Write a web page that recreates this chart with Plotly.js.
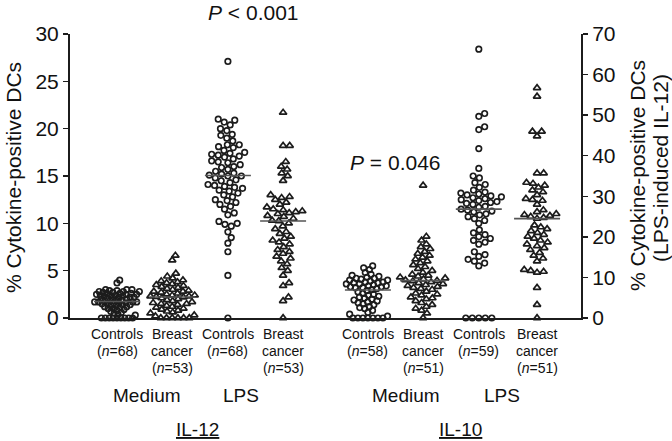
<!DOCTYPE html>
<html><head><meta charset="utf-8">
<script src="https://cdn.plot.ly/plotly-3.0.1.min.js"></script>
<style>html,body{margin:0;padding:0;background:#fff}#chart{width:672px;height:441px}</style>
</head><body><div id="chart"></div>
<script>
// ---------- DATA (left-axis units) ----------
const groupNames = ["Controls", "Breast cancer", "Controls", "Breast cancer",
                    "Controls", "Breast cancer", "Controls", "Breast cancer"];
const groupN = [68, 53, 68, 53, 58, 51, 59, 51];
const groupKind = ["control", "cancer", "control", "cancer", "control", "cancer", "control", "cancer"];
const conditionLabels = ["Medium", "LPS", "Medium", "LPS"];
const cytokineLabels = ["IL-12", "IL-10"];
const pValueLabels = ["<i>P</i> < 0.001", "<i>P</i> = 0.046"];
const leftTicks = [0, 5, 10, 15, 20, 25, 30];
const rightTicks = [0, 10, 20, 30, 40, 50, 60, 70];

const il12MediumControls = [0,0,0,0,0,0,0,0,0, 0.3,0.4,0.5,0.6,0.7, 0.8,0.9,1.0,1.0,1.1,
  1.2,1.2,1.3,1.3,1.4, 1.4,1.5,1.5,1.6,1.6, 1.6,1.7,1.7,1.7,1.7, 1.8,1.8,1.9,1.9,2.0,
  2.0,2.1,2.1,2.2,2.2, 2.3,2.3,2.4,2.4,2.5, 2.5,2.5,2.6,2.6,2.7, 2.7,2.8,2.8,2.9,2.9,
  3.0,3.0,2.2,2.4,2.6, 2.8,3.0,3.7,4.0];
const il12MediumCancer = [0,0,0,0,0,0, 0.2,0.3,0.5,0.6,0.7, 0.8,0.9,1.0,1.1,1.2,
  1.3,1.4,1.5,1.5,1.6, 1.7,1.8,1.9,2.0,2.1, 2.25, 2.3,2.4,2.5,2.6,2.7, 2.8,2.9,3.0,3.1,3.2,
  3.3,3.4,3.5,3.6,3.7, 3.8,3.9,4.0,4.2,4.4, 2.8,4.7,6.1,6.6, 2.2,2.3,2.4];
const il12LpsControls = [0,4.5,7.0,7.9,8.5, 9.1,9.7,9.9,10.0,10.2, 10.9,11.1,11.5,11.8,12.0,
  12.2,12.4,12.5,12.8,13.0, 13.2,13.4,13.5,13.7,13.8, 14.0,14.1,14.3,14.5,14.6,
  14.8,15.0,15.0,15.1, 15.2, 15.3,15.5,15.7,15.9,16.0, 16.2,16.4,16.6,16.8,17.0,
  17.1,17.3,17.4,17.5,17.7, 18.0,18.1,18.3,18.3,18.7, 19.0,19.3,19.4,19.8,20.0,
  20.4,20.7,20.9,21.0,27.1, 13.9,16.5,17.2];
const il12LpsCancer = [0,1.8,2.2,3.4,3.7, 4.5,5.0,5.3,5.7,6.0, 6.3,6.5,6.8,7.0,7.2,
  7.5,7.8,8.0,8.2,8.4, 8.6,8.9,9.1,9.4,9.7, 10.0,10.3, 10.5,10.7,10.8, 11.0,11.1,11.2,11.3,11.5,
  11.7,12.0,12.2,12.5,12.7, 12.8,13.0,14.5,15.0,15.3, 15.7,16.0,16.5,18.2,18.2, 21.7, 10.25,11.4];
const il10MediumControls = [0,0,0,0,0,0,0, 0.2,0.4,0.6,0.8,1.0, 1.1,1.2,1.4,1.5,1.6,
  1.7,1.8,1.9,2.0,2.1, 2.2,2.3,2.4,2.5,2.6, 2.75,2.9,3.0, 3.1,3.2,3.3,3.4,3.5,
  3.6,3.7,3.8,3.9,4.0, 4.1,4.2,4.3,4.4,4.5, 3.2,3.4,3.6,3.8,4.0, 4.2,4.6,4.8,5.1,5.3, 5.5,3.3,3.7];
const il10MediumCancer = [0, 0.5,0.8,1.0,1.2,1.4, 1.6,1.8,2.0,2.1,2.2, 2.4,2.5,2.6,2.8,3.0,
  3.1,3.2,3.3,3.4,3.5, 3.6,3.7,3.8,3.9, 3.95, 4.0,4.1,4.2,4.3,4.4, 4.5,4.6,4.8,5.0,5.2,
  5.4,5.6,5.8,6.0,6.2, 6.4,6.6,6.8,7.0,7.3, 7.5,7.8,8.2,8.6,14.0];
const il10LpsControls = [0,0,0,0,0, 5.5,5.8,6.0,6.2,6.5, 6.7,7.0,7.8,8.0,8.2, 8.4,8.6,8.8,9.0,9.3,
  10.0,10.3,10.5,10.7,10.9, 11.0,11.2,11.3,11.4, 11.5, 11.7,11.8,12.0,12.1,12.2,
  12.4,12.5,12.6,12.8,12.9, 13.0,13.1,13.3,13.5,13.8, 14.1,14.3,15.0,15.8,17.9,
  19.9,20.2,21.3,21.6,28.4, 12.3,12.7,13.2,14.8];
const il10LpsCancer = [0,1.4,3.2,4.8,4.9, 5.0,5.1,6.0,6.3,6.6, 6.9,7.2,7.4,7.6,7.8,
  8.0,8.2,8.4,8.6,8.8, 9.0,9.2,9.4,9.6,9.8, 10.5, 10.6,10.7,10.8,10.9,11.0,
  11.2,11.4,12.0,12.4,12.5, 12.6,13.0,13.3,13.5,13.8, 14.0,14.2,14.3,15.3,15.3,
  19.2,19.7,19.7,23.4,24.3];

const groupValues = [il12MediumControls, il12MediumCancer, il12LpsControls, il12LpsCancer,
                     il10MediumControls, il10MediumCancer, il10LpsControls, il10LpsCancer];

// ---------- LAYOUT / STYLE ----------
const W = 672, H = 441;
const M = {l: 70, r: 91, t: 34, b: 123};
const plotW = W - M.l - M.r, plotH = H - M.t - M.b;
const xRange = [0, 10], yRange = [0, 30], y2Range = [0, 70];
const xPx = plotW / (xRange[1] - xRange[0]);
const yPx = plotH / (yRange[1] - yRange[0]);
const groupPos = [0.92, 2.0, 3.09, 4.17, 5.83, 6.91, 8.0, 9.14];
const conditionPos = [1.51, 3.35, 6.58, 8.45];
const cytokinePos = [2.5, 7.65];
const pPos = [{x: 3.6, py: 12}, {x: 6.36, py: 162}];
const FONT = "Liberation Sans, Arial, Helvetica, sans-serif";
const INK = "#1c1c1c";
const medianHalf = 0.45;
const swarmDMax = 6.6, swarmHalfMax = 23;

function median(a) {
  const s = a.slice().sort((p, q) => p - q);
  const n = s.length;
  return n % 2 ? s[(n - 1) / 2] : (s[n / 2 - 1] + s[n / 2]) / 2;
}
function beeswarmD(vals, D) {
  const sorted = vals.slice().sort((a, b) => a - b);
  const placed = [];
  for (const v of sorted) {
    const y = v * yPx;
    const cands = [0];
    for (const p of placed) {
      const dy = Math.abs(p.y - y);
      if (dy < D) { const dx = Math.sqrt(D * D - dy * dy); cands.push(p.x + dx, p.x - dx); }
    }
    cands.sort((a, b) => Math.abs(a) - Math.abs(b));
    let best = 0;
    for (const c of cands) {
      let ok = true;
      for (const p of placed) {
        const dx = c - p.x, dy = y - p.y;
        if (dx * dx + dy * dy < D * D - 1e-6) { ok = false; break; }
      }
      if (ok) { best = c; break; }
    }
    placed.push({x: best, y: y, v: v});
  }
  return placed;
}
function beeswarm(vals) {
  let D = swarmDMax, sw = beeswarmD(vals, D);
  while (D > 2.5 && Math.max.apply(null, sw.map(p => Math.abs(p.x))) > swarmHalfMax) {
    D -= 0.1; sw = beeswarmD(vals, D);
  }
  return sw;
}

const traces = [];
groupValues.forEach((vals, i) => {
  const sw = beeswarm(vals);
  const isCtrl = groupKind[i] === "control";
  traces.push({
    type: "scatter", mode: "markers", cliponaxis: false, hoverinfo: "y",
    x: sw.map(p => groupPos[i] + p.x / xPx),
    y: sw.map(p => p.v),
    marker: {
      symbol: isCtrl ? "circle-open" : "triangle-up-open",
      size: isCtrl ? 5.5 : 6.5,
      color: INK,
      line: {width: 1.7, color: INK}
    },
    showlegend: false
  });
  const m = median(vals);
  traces.push({
    type: "scatter", mode: "lines", cliponaxis: false, hoverinfo: "skip",
    x: [groupPos[i] - medianHalf, groupPos[i] + medianHalf], y: [m, m],
    line: {color: "#555", width: 1.6}, showlegend: false
  });
});
// right axis anchor trace (no marks)
traces.push({type: "scatter", x: [], y: [], yaxis: "y2", showlegend: false, hoverinfo: "skip"});

const ann = [];
function pyToShift(py) { return -(py - (H - M.b)); }
groupNames.forEach((name, i) => {
  const lines = name === "Breast cancer" ? ["Breast", "cancer"] : ["Controls"];
  lines.push("(<i>n</i>=" + groupN[i] + ")");
  lines.forEach((t, k) => ann.push({
    text: t, xref: "x", x: groupPos[i], yref: "paper", y: 0, yanchor: "middle",
    yshift: pyToShift(334 + 17 * k), showarrow: false, font: {size: 14, color: "#111", family: FONT}
  }));
});
conditionLabels.forEach((t, i) => ann.push({
  text: t, xref: "x", x: conditionPos[i], yref: "paper", y: 0, yanchor: "middle",
  yshift: pyToShift(395), showarrow: false, font: {size: 19, color: "#111", family: FONT}
}));
cytokineLabels.forEach((t, i) => ann.push({
  text: "<u>" + t + "</u>", xref: "x", x: cytokinePos[i], yref: "paper", y: 0, yanchor: "middle",
  yshift: pyToShift(429), showarrow: false, font: {size: 19, color: "#111", family: FONT}
}));
pValueLabels.forEach((t, i) => ann.push({
  text: t, xref: "x", x: pPos[i].x, yref: "paper", y: 0, yanchor: "middle",
  yshift: pyToShift(pPos[i].py), showarrow: false, font: {size: 21, color: "#111", family: FONT}
}));
// axis titles
ann.push({text: "% Cytokine-positive DCs", textangle: -90, xref: "paper", x: 0, xshift: -(M.l - 13),
  yref: "paper", y: 0, yshift: pyToShift(178), xanchor: "center", yanchor: "middle", showarrow: false,
  font: {size: 21, color: "#111", family: FONT}});
ann.push({text: "% Cytokine-positive DCs", textangle: -90, xref: "paper", x: 1, xshift: 637 - (W - M.r),
  yref: "paper", y: 0, yshift: pyToShift(176), xanchor: "center", yanchor: "middle", showarrow: false,
  font: {size: 21, color: "#111", family: FONT}});
ann.push({text: "(LPS-induced IL-12)", textangle: -90, xref: "paper", x: 1, xshift: 660 - (W - M.r),
  yref: "paper", y: 0, yshift: pyToShift(168), xanchor: "center", yanchor: "middle", showarrow: false,
  font: {size: 21, color: "#111", family: FONT}});

const axisCommon = {
  showline: true, linewidth: 2, linecolor: INK, showgrid: false, zeroline: false,
  ticks: "outside", ticklen: 5, tickwidth: 1.5, tickcolor: INK,
  tickfont: {size: 21, color: "#111", family: FONT}, fixedrange: true
};
const layout = {
  width: W, height: H, margin: M, paper_bgcolor: "#fff", plot_bgcolor: "#fff",
  font: {family: FONT, color: "#111"}, showlegend: false,
  xaxis: {range: xRange, showline: true, linewidth: 2, linecolor: INK, showgrid: false,
          zeroline: false, showticklabels: false, ticks: "", fixedrange: true},
  yaxis: Object.assign({}, axisCommon, {range: yRange, tickvals: leftTicks, side: "left"}),
  yaxis2: Object.assign({}, axisCommon, {range: y2Range, tickvals: rightTicks, side: "right",
          overlaying: "y", anchor: "x"}),
  annotations: ann
};
Plotly.newPlot("chart", traces, layout, {displayModeBar: false, staticPlot: true});
</script></body></html>
